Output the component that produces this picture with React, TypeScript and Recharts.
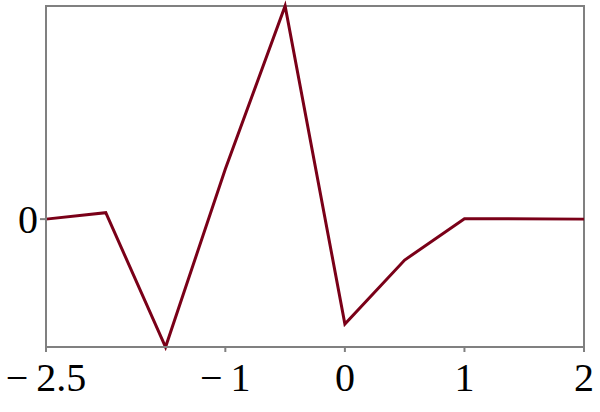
import { LineChart, Line, XAxis, YAxis, ReferenceArea } from 'recharts';

// x positions and the curve values
const xValues = [-2.5, -2, -1.5, -1, -0.5, 0, 0.5, 1, 2];
const yValues = [0, 0.03, -0.6, 0.235, 1.0, -0.492, -0.192, 0.002, 0];
const xTicks = [-2.5, -1, 0, 1, 2];
const yTicks = [0];

const data = xValues.map((x, i) => ({ x, y: yValues[i] }));

const axisColor = '#808080';
const serif = '"Liberation Serif", "Times New Roman", serif';
const tickFont = { fontFamily: serif, fontSize: 40, fill: '#000', style: { fontFamily: serif } };
// minus sign with a thin gap, as in the original typesetting
const fmt = (v: number) => (v < 0 ? '\u2212\u2009' + Math.abs(v) : String(v));

const App = () => {
  return (
    <div style={{ position: 'absolute', left: 0, top: 0, background: '#fff', fontFamily: serif }}>
      <LineChart width={600} height={412} data={data} margin={{ top: 6, right: 16, left: 0, bottom: 0 }}>
        <ReferenceArea
          x1={-2.5}
          x2={2}
          y1={-0.6}
          y2={1.0}
          fill="none"
          fillOpacity={0}
          stroke={axisColor}
          strokeWidth={2}
          strokeOpacity={1}
        />
        <XAxis
          dataKey="x"
          type="number"
          domain={[-2.5, 2]}
          ticks={xTicks}
          tickFormatter={fmt}
          height={65}
          tickSize={5}
          tickMargin={11}
          tick={tickFont}
          stroke={axisColor}
          strokeWidth={2}
          tickLine={{ stroke: axisColor, strokeWidth: 2 }}
          interval={0}
        />
        <YAxis
          type="number"
          domain={[-0.6, 1.0]}
          ticks={yTicks}
          tickFormatter={fmt}
          width={46}
          tickSize={6}
          tickMargin={2}
          tick={tickFont}
          stroke={axisColor}
          strokeWidth={2}
          tickLine={{ stroke: axisColor, strokeWidth: 2 }}
        />
        <Line
          dataKey="y"
          type="linear"
          stroke="#7a0018"
          strokeWidth={3}
          dot={false}
          isAnimationActive={false}
        />
      </LineChart>
    </div>
  );
};

export default App;
